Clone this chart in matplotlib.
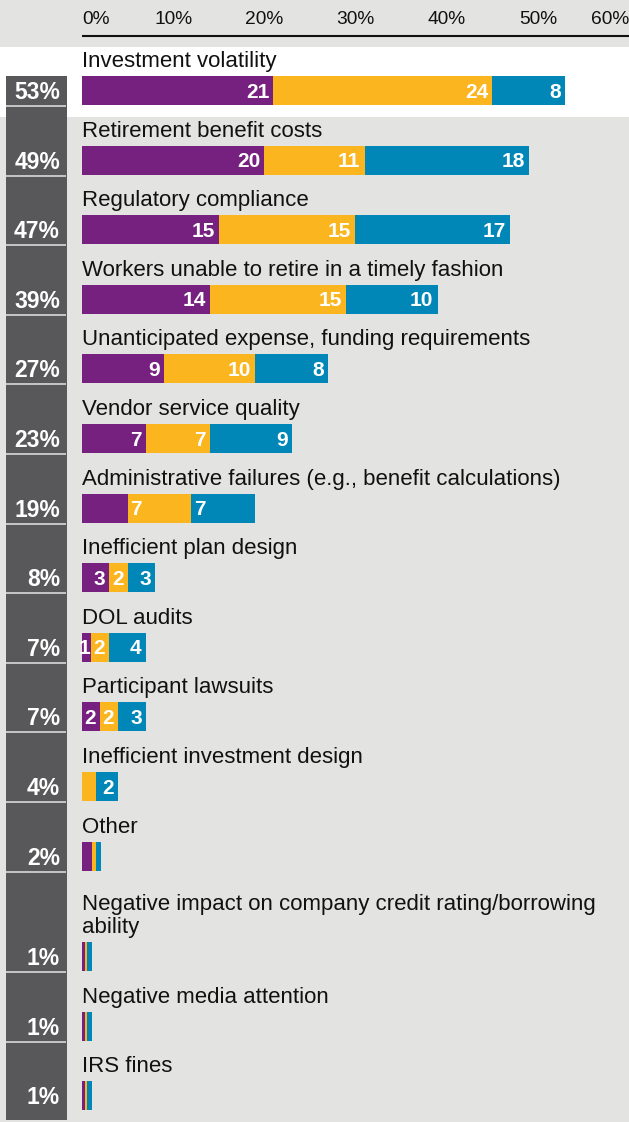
import matplotlib

matplotlib.use("Agg")
import matplotlib.pyplot as plt
from matplotlib.patches import Rectangle

plt.rcParams["font.family"] = ["Liberation Sans", "DejaVu Sans"]

CATEGORIES = [
    "Investment volatility",
    "Retirement benefit costs",
    "Regulatory compliance",
    "Workers unable to retire in a timely fashion",
    "Unanticipated expense, funding requirements",
    "Vendor service quality",
    "Administrative failures (e.g., benefit calculations)",
    "Inefficient plan design",
    "DOL audits",
    "Participant lawsuits",
    "Inefficient investment design",
    "Other",
    "Negative impact on company credit rating/borrowing\nability",
    "Negative media attention",
    "IRS fines",
]
PURPLE_VALS = [21, 20, 15, 14, 9, 7, 5, 3, 1, 2, 0, 1.1, 0.35, 0.35, 0.35]
YELLOW_VALS = [24, 11, 15, 15, 10, 7, 7, 2, 2, 2, 1.5, 0.4, 0.2, 0.2, 0.2]
BLUE_VALS = [8, 18, 17, 10, 8, 9, 7, 3, 4, 3, 2.5, 0.6, 0.5, 0.5, 0.5]
# which segment values get printed inside the bar
SHOW_VALUE = [
    (True, True, True), (True, True, True), (True, True, True),
    (True, True, True), (True, True, True), (True, True, True),
    (False, True, True), (True, True, True), (True, True, True),
    (True, True, True), (False, False, True), (False, False, False),
    (False, False, False), (False, False, False), (False, False, False),
]
TICKS = [0, 10, 20, 30, 40, 50, 60]

COLORS = ["#76217f", "#fbb51f", "#0087b8"]
BG = "#e3e3e1"
DARK = "#58585a"

W_PX, H_PX = 629, 1122
X0_PX = 82            # pixel column of 0%
PX_PER_PCT = 9.116
ROW_PITCH = 69.6
WRAP_EXTRA = 31.0
BAR_H = 29
FIRST_BOTTOM = 105


def px_to_x(px):
    return (px - X0_PX) / PX_PER_PCT


fig = plt.figure(figsize=(W_PX / 100, H_PX / 100), dpi=100, facecolor=BG)
ax = fig.add_axes([0, 0, 1, 1])
ax.set_facecolor(BG)
ax.set_xlim(px_to_x(0), px_to_x(W_PX))
ax.set_ylim(H_PX, 0)
ax.axis("off")

# bar bottom positions, with extra room under wrapped labels
bottoms = []
y = FIRST_BOTTOM
for i, cat in enumerate(CATEGORIES):
    if i > 0:
        y += ROW_PITCH + (WRAP_EXTRA if "\n" in cat else 0)
    bottoms.append(y)

# highlighted first row
ax.axhspan(47, 117, color="white", zorder=0, lw=0)

# dark total column
ax.add_patch(Rectangle((px_to_x(6), 76), px_to_x(67) - px_to_x(6), 1120 - 76,
                       facecolor=DARK, edgecolor="none", zorder=1))

# top scale
ax.hlines(36, 0, px_to_x(W_PX), color="#111111", lw=1.5, zorder=2)
for t in TICKS:
    if t == 0:
        ha, xt = "left", t
    elif t == TICKS[-1]:
        ha, xt = "right", px_to_x(W_PX)
    else:
        ha, xt = "center", t
    ax.text(xt, 24, f"{t}%", ha=ha, va="baseline", fontsize=13.8,
            color="#111111", zorder=3)

for i, cat in enumerate(CATEGORIES):
    bot = bottoms[i]
    top = bot - BAR_H
    vals = [PURPLE_VALS[i], YELLOW_VALS[i], BLUE_VALS[i]]
    left = 0
    for j, v in enumerate(vals):
        if v > 0:
            ax.barh(bot - BAR_H / 2, v, left=left, height=BAR_H,
                    color=COLORS[j], lw=0, zorder=2)
        if SHOW_VALUE[i][j]:
            # the admin-failures row has its numbers at the segment start
            if i == 6:
                tx, ha = left + 0.3, "left"
            else:
                pad = 0.05 if v < 1.5 else 0.45
                tx, ha = left + v - pad, "right"
            ax.text(tx, bot - BAR_H / 2 + 1.5, f"{v:.0f}", ha=ha, va="center",
                    fontsize=15, fontweight="bold", color="white", zorder=4)
        left += v

    ax.text(0, top - 4, cat, ha="left", va="bottom", fontsize=16,
            color="#111111", linespacing=1.14, zorder=3)

    total = sum(vals)
    ax.text(px_to_x(60), bot - 6, f"{total:.0f}%", ha="right", va="baseline",
            fontsize=16.5, fontweight="bold", color="white", zorder=3)
    if i < len(CATEGORIES) - 1:
        ax.hlines(bot + 1, px_to_x(6), px_to_x(66), color="#cfcfcf", lw=1.3,
                  zorder=3)

fig.savefig("out.png", dpi=100, facecolor=BG)
